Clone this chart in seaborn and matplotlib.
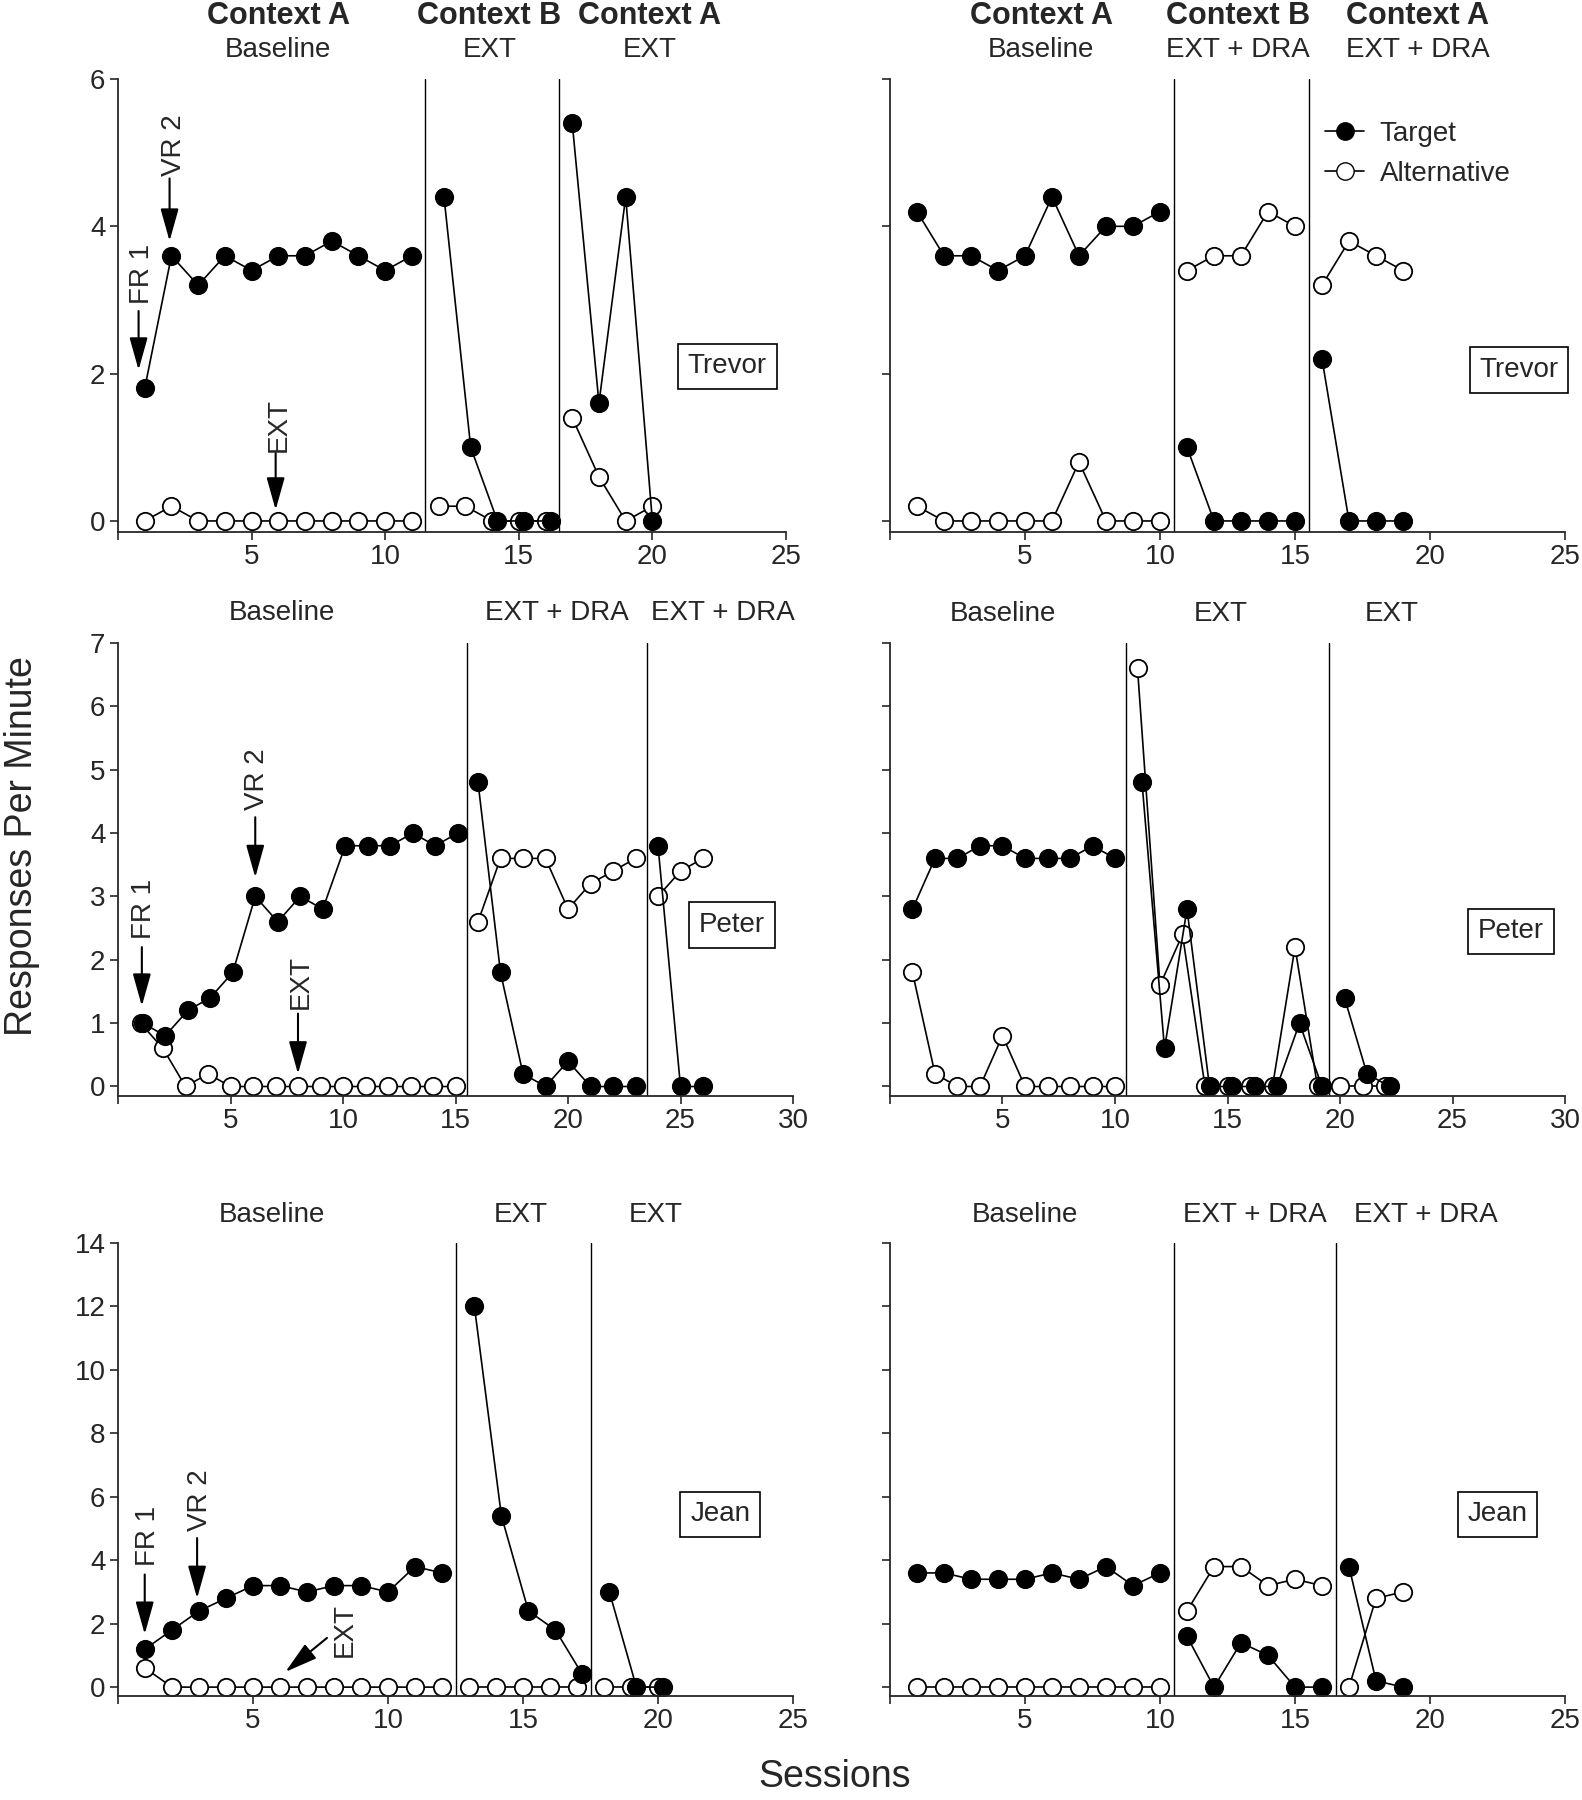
import matplotlib
matplotlib.use("Agg")
import matplotlib.pyplot as plt
from matplotlib.lines import Line2D
import pandas as pd
import seaborn as sns

# --- data (responses per minute by session) ---
# Trevor, Context A/B/A, EXT
tl_target_x = [1, 2, 3, 4, 5, 6, 7, 8, 9, 10, 11, 12.2, 13.2, 14.2, 15.2, 16.2, 17, 18, 19, 20]
tl_target_y = [1.8, 3.6, 3.2, 3.6, 3.4, 3.6, 3.6, 3.8, 3.6, 3.4, 3.6, 4.4, 1.0, 0, 0, 0, 5.4, 1.6, 4.4, 0]
tl_alt_x = [1, 2, 3, 4, 5, 6, 7, 8, 9, 10, 11, 12, 13, 14, 15, 16, 17, 18, 19, 20]
tl_alt_y = [0, 0.2, 0, 0, 0, 0, 0, 0, 0, 0, 0, 0.2, 0.2, 0, 0, 0, 1.4, 0.6, 0, 0.2]
tl_phases = [11.5, 16.5]

# Trevor, EXT + DRA
tr_target_x = [1, 2, 3, 4, 5, 6, 7, 8, 9, 10, 11, 12, 13, 14, 15, 16, 17, 18, 19]
tr_target_y = [4.2, 3.6, 3.6, 3.4, 3.6, 4.4, 3.6, 4.0, 4.0, 4.2, 1.0, 0, 0, 0, 0, 2.2, 0, 0, 0]
tr_alt_x = [1, 2, 3, 4, 5, 6, 7, 8, 9, 10, 11, 12, 13, 14, 15, 16, 17, 18, 19]
tr_alt_y = [0.2, 0, 0, 0, 0, 0, 0.8, 0, 0, 0, 3.4, 3.6, 3.6, 4.2, 4.0, 3.2, 3.8, 3.6, 3.4]
tr_phases = [10.5, 15.5]

# Peter, EXT + DRA
ml_target_x = [1.1, 2.1, 3.1, 4.1, 5.1, 6.1, 7.1, 8.1, 9.1, 10.1, 11.1, 12.1, 13.1, 14.1, 15.1,
               16, 17, 18, 19, 20, 21, 22, 23, 24, 25, 26]
ml_target_y = [1.0, 0.8, 1.2, 1.4, 1.8, 3.0, 2.6, 3.0, 2.8, 3.8, 3.8, 3.8, 4.0, 3.8, 4.0,
               4.8, 1.8, 0.2, 0, 0.4, 0, 0, 0, 3.8, 0, 0]
ml_alt_x = [1, 2, 3, 4, 5, 6, 7, 8, 9, 10, 11, 12, 13, 14, 15,
            16, 17, 18, 19, 20, 21, 22, 23, 24, 25, 26]
ml_alt_y = [1.0, 0.6, 0, 0.2, 0, 0, 0, 0, 0, 0, 0, 0, 0, 0, 0,
            2.6, 3.6, 3.6, 3.6, 2.8, 3.2, 3.4, 3.6, 3.0, 3.4, 3.6]
ml_phases = [15.5, 23.5]

# Peter, EXT
mr_target_x = [1, 2, 3, 4, 5, 6, 7, 8, 9, 10,
               11.2, 12.2, 13.2, 14.2, 15.2, 16.2, 17.2, 18.2, 19.2, 20.2, 21.2, 22.2]
mr_target_y = [2.8, 3.6, 3.6, 3.8, 3.8, 3.6, 3.6, 3.6, 3.8, 3.6,
               4.8, 0.6, 2.8, 0, 0, 0, 0, 1.0, 0, 1.4, 0.2, 0]
mr_alt_x = [1, 2, 3, 4, 5, 6, 7, 8, 9, 10, 11, 12, 13, 14, 15, 16, 17, 18, 19, 20, 21, 22]
mr_alt_y = [1.8, 0.2, 0, 0, 0.8, 0, 0, 0, 0, 0,
            6.6, 1.6, 2.4, 0, 0, 0, 0, 2.2, 0, 0, 0, 0]
mr_phases = [10.5, 19.5]

# Jean, EXT
bl_target_x = [1, 2, 3, 4, 5, 6, 7, 8, 9, 10, 11, 12,
               13.2, 14.2, 15.2, 16.2, 17.2, 18.2, 19.2, 20.2]
bl_target_y = [1.2, 1.8, 2.4, 2.8, 3.2, 3.2, 3.0, 3.2, 3.2, 3.0, 3.8, 3.6,
               12.0, 5.4, 2.4, 1.8, 0.4, 3.0, 0, 0]
bl_alt_x = [1, 2, 3, 4, 5, 6, 7, 8, 9, 10, 11, 12, 13, 14, 15, 16, 17, 18, 19, 20]
bl_alt_y = [0.6, 0, 0, 0, 0, 0, 0, 0, 0, 0, 0, 0, 0, 0, 0, 0, 0, 0, 0, 0]
bl_phases = [12.5, 17.5]

# Jean, EXT + DRA
br_target_x = [1, 2, 3, 4, 5, 6, 7, 8, 9, 10, 11, 12, 13, 14, 15, 16, 17, 18, 19]
br_target_y = [3.6, 3.6, 3.4, 3.4, 3.4, 3.6, 3.4, 3.8, 3.2, 3.6, 1.6, 0, 1.4, 1.0, 0, 0, 3.8, 0.2, 0]
br_alt_x = [1, 2, 3, 4, 5, 6, 7, 8, 9, 10, 11, 12, 13, 14, 15, 16, 17, 18, 19]
br_alt_y = [0, 0, 0, 0, 0, 0, 0, 0, 0, 0, 2.4, 3.8, 3.8, 3.2, 3.4, 3.2, 0, 2.8, 3.0]
br_phases = [10.5, 16.5]

sns.set_style("ticks")
plt.rcParams["font.family"] = ["Liberation Sans", "DejaVu Sans"]

FS = 20
MS = 12.5
LW = 1.2


def split_phases(xs, ys, bounds):
    df = pd.DataFrame({"session": xs, "rate": ys})
    edges = [-1] + list(bounds) + [100]
    df["phase"] = pd.cut(df.session, edges, labels=False)
    return df


def draw_series(ax, xs, ys, bounds, filled):
    df = split_phases(xs, ys, bounds)
    for _, part in df.groupby("phase"):
        sns.lineplot(data=part, x="session", y="rate", ax=ax, color="black", lw=LW,
                     marker="o", markersize=MS, markeredgecolor="black", markeredgewidth=1.3,
                     markerfacecolor="black" if filled else "white", estimator=None, sort=False)


def setup(ax, xmax, ymax, ystep, ybottom, show_ylabels):
    ax.set_xlim(0, xmax)
    ax.set_ylim(ybottom, ymax)
    ax.set_xticks(range(0, xmax + 1, 5))
    ax.set_xticklabels([""] + [str(v) for v in range(5, xmax + 1, 5)])
    yt = list(range(0, ymax + 1, ystep))
    ax.set_yticks(yt)
    ax.set_yticklabels([str(v) for v in yt] if show_ylabels else [])
    ax.tick_params(direction="out", length=6, width=1.2, labelsize=FS, pad=3)
    for s in ["left", "bottom"]:
        ax.spines[s].set_linewidth(1.3)
    sns.despine(ax=ax)
    ax.set_xlabel("")
    ax.set_ylabel("")


def phase_lines(ax, bounds):
    for b in bounds:
        ax.axvline(b, color="black", lw=1.0)


def headers(ax, items, y_sub):
    tr = ax.get_xaxis_transform()
    for x, ctx, cond in items:
        if ctx:
            ax.text(x, y_sub + 0.076, ctx, transform=tr, ha="center", va="center",
                    fontsize=22, fontweight="bold")
        ax.text(x, y_sub, cond, transform=tr, ha="center", va="center", fontsize=FS)


def name_box(ax, x, y, name):
    ax.text(x, y, name, ha="center", va="center", fontsize=FS,
            bbox=dict(boxstyle="square,pad=0.35", fc="white", ec="black", lw=1.2))


def arrow(ax, label, x0, y0, x1, y1, tx, ty):
    ax.annotate("", xy=(x1, y1), xytext=(x0, y0),
                arrowprops=dict(arrowstyle="-|>,head_length=1.0,head_width=0.28",
                                color="black", lw=1.5, mutation_scale=20, shrinkA=0, shrinkB=0))
    ax.text(tx, ty, label, rotation=90, ha="center", va="center", fontsize=FS)


fig = plt.figure(figsize=(15.82, 18), dpi=100)

lx, rx = 118 / 1582, 890 / 1582
w = 675 / 1582
h = 453 / 1800
rows = [1 - 532 / 1800, 1 - 1096 / 1800, 1 - 1696 / 1800]

ax_tl = fig.add_axes([lx, rows[0], 668 / 1582, h])
ax_tr = fig.add_axes([rx, rows[0], w, h])
ax_ml = fig.add_axes([lx, rows[1], w, h])
ax_mr = fig.add_axes([rx, rows[1], w, h])
ax_bl = fig.add_axes([lx, rows[2], w, h])
ax_br = fig.add_axes([rx, rows[2], w, h])

panels = [
    (ax_tl, tl_alt_x, tl_alt_y, tl_target_x, tl_target_y, tl_phases, 25, 6, 2, -0.15, True),
    (ax_tr, tr_alt_x, tr_alt_y, tr_target_x, tr_target_y, tr_phases, 25, 6, 2, -0.15, False),
    (ax_ml, ml_alt_x, ml_alt_y, ml_target_x, ml_target_y, ml_phases, 30, 7, 1, -0.15, True),
    (ax_mr, mr_alt_x, mr_alt_y, mr_target_x, mr_target_y, mr_phases, 30, 7, 1, -0.15, False),
    (ax_bl, bl_alt_x, bl_alt_y, bl_target_x, bl_target_y, bl_phases, 25, 14, 2, -0.28, True),
    (ax_br, br_alt_x, br_alt_y, br_target_x, br_target_y, br_phases, 25, 14, 2, -0.28, False),
]

for ax, ax_x, ax_y, tx_, ty_, ph, xmax, ymax, ystep, yb, lab in panels:
    phase_lines(ax, ph)
    draw_series(ax, ax_x, ax_y, ph, filled=False)
    draw_series(ax, tx_, ty_, ph, filled=True)
    setup(ax, xmax, ymax, ystep, yb, lab)

# headers
headers(ax_tl, [(6.0, "Context A", "Baseline"), (13.9, "Context B", "EXT"),
                (19.9, "Context A", "EXT")], 1.064)
headers(ax_tr, [(5.6, "Context A", "Baseline"), (12.9, "Context B", "EXT + DRA"),
                (19.55, "Context A", "EXT + DRA")], 1.064)
headers(ax_ml, [(7.3, None, "Baseline"), (19.5, None, "EXT + DRA"),
                (26.9, None, "EXT + DRA")], 1.066)
headers(ax_mr, [(5.0, None, "Baseline"), (14.7, None, "EXT"), (22.3, None, "EXT")], 1.064)
headers(ax_bl, [(5.7, None, "Baseline"), (14.9, None, "EXT"), (19.9, None, "EXT")], 1.062)
headers(ax_br, [(5.0, None, "Baseline"), (13.5, None, "EXT + DRA"),
                (19.85, None, "EXT + DRA")], 1.062)

# participant boxes
name_box(ax_tl, 22.8, 2.1, "Trevor")
name_box(ax_tr, 23.3, 2.05, "Trevor")
name_box(ax_ml, 27.3, 2.55, "Peter")
name_box(ax_mr, 27.6, 2.45, "Peter")
name_box(ax_bl, 22.3, 5.45, "Jean")
name_box(ax_br, 22.5, 5.45, "Jean")

# schedule arrows
arrow(ax_tl, "FR 1", 0.77, 2.85, 0.77, 2.05, 0.9, 3.35)
arrow(ax_tl, "VR 2", 1.93, 4.65, 1.93, 3.8, 2.1, 5.1)
arrow(ax_tl, "EXT", 5.9, 0.92, 5.9, 0.15, 6.0, 1.3)
arrow(ax_ml, "FR 1", 1.06, 2.2, 1.06, 1.27, 1.15, 2.8)
arrow(ax_ml, "VR 2", 6.1, 4.25, 6.1, 3.3, 6.2, 4.85)
arrow(ax_ml, "EXT", 8.0, 1.15, 8.0, 0.2, 8.1, 1.65)
arrow(ax_bl, "FR 1", 0.99, 3.55, 0.99, 1.67, 1.1, 4.75)
arrow(ax_bl, "VR 2", 2.93, 4.7, 2.93, 2.8, 3.05, 5.9)
arrow(ax_bl, "EXT", 7.74, 1.55, 6.2, 0.48, 8.4, 1.8)

# legend
handles = [
    Line2D([], [], color="black", lw=LW, marker="o", markersize=MS,
           markerfacecolor="black", markeredgecolor="black"),
    Line2D([], [], color="black", lw=LW, marker="o", markersize=MS,
           markerfacecolor="white", markeredgecolor="black"),
]
ax_tr.legend(handles, ["Target", "Alternative"], loc="upper left", bbox_to_anchor=(0.608, 0.962),
             frameon=False, fontsize=FS, handlelength=1.4, handletextpad=0.55, labelspacing=0.5)

fig.text(22 / 1582, 1 - 846 / 1800, "Responses Per Minute", rotation=90, ha="center",
         va="center", fontsize=27)
fig.text(835 / 1582, 0.003, "Sessions", ha="center", va="bottom", fontsize=27)

fig.savefig("out.png", dpi=100)
